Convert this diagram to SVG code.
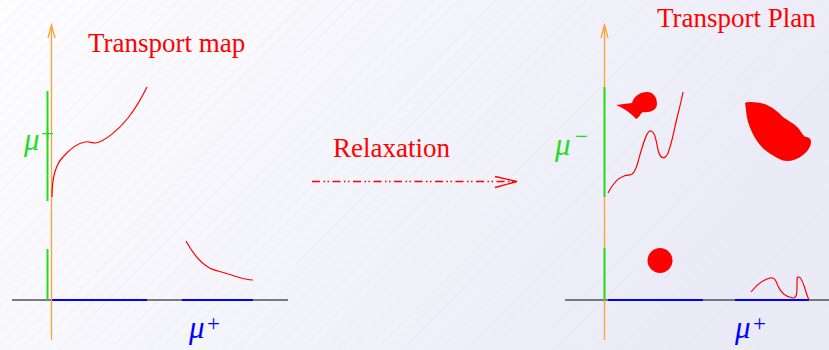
<svg xmlns="http://www.w3.org/2000/svg" width="829" height="350" viewBox="0 0 829 350">
<style>
.axis{stroke:#000;stroke-width:1.2;fill:none}
.yax{stroke:#ffa033;stroke-width:1.3;fill:none}
.grn{stroke:#22dd22;stroke-width:2;fill:none}
.blu{stroke:#0000ff;stroke-width:2;fill:none}
.red{stroke:#ff0000;stroke-width:1.2;fill:none}
.blob{fill:#ff0000;stroke:none}
.title{font-family:"Liberation Serif",serif;font-size:27px;fill:#ff0000}
.mu{font-family:"Liberation Serif",serif;font-style:italic;font-size:31px}
.sup{font-family:"Liberation Serif",serif;font-size:23px}
</style>
<defs>
<linearGradient id="bg" x1="0" y1="0" x2="1" y2="0.3">
<stop offset="0" stop-color="#fdfdff"/>
<stop offset="1" stop-color="#ebebf7"/>
</linearGradient>
<pattern id="hatch" width="9" height="9" patternUnits="userSpaceOnUse" patternTransform="rotate(45)">
<line x1="0" y1="0" x2="0" y2="9" stroke="#dcdcea" stroke-width="0.7" opacity="0.5"/>
</pattern>
</defs>
<rect width="829" height="350" fill="url(#bg)"/>
<rect width="829" height="350" fill="url(#hatch)"/>

<g id="left-panel">
<line class="axis" x1="12" y1="300" x2="288" y2="300"/>
<line class="grn" x1="47.5" y1="91" x2="47.5" y2="201"/>
<line class="grn" x1="47.5" y1="249" x2="47.5" y2="300"/>
<line class="blu" x1="52" y1="300" x2="147" y2="300"/>
<line class="blu" x1="182" y1="300" x2="253" y2="300"/>
<line class="yax" x1="51.5" y1="26" x2="51.5" y2="340"/>
<path class="yax" d="M48 38 L51.5 25 L55 38"/>
<path class="red" d="M52 197 C52 180 55 165 63 157 C70 149 78 143 85 142 C89 141 91 143 95 143 C105 142 120 128 128 118 C136 108 142 97 147 87"/>
<path class="red" d="M186 241 C192 252 198 261 208 267 C214 271 220 271 228 274 C238 277 245 280 253 280"/>
<text class="title" x="88" y="52">Transport map</text>
<text class="mu" x="24" y="150" fill="#22dd22">μ</text>
<text class="sup" x="41" y="141" fill="#22dd22">+</text>
<text class="mu" x="189" y="338" fill="#0000ff">μ</text>
<text class="sup" x="207" y="331" fill="#0000ff">+</text>
</g>

<g id="relaxation">
<text class="title" x="333" y="157">Relaxation</text>
</g>

<g id="connectors">
<line x1="312" y1="181.5" x2="516" y2="181.5" stroke="#ff0000" stroke-width="1.3" stroke-dasharray="8 3.5 1.5 2.5 1.5 3.5"/>
<path d="M495 176.5 L517 181.5 L495 187.5" fill="none" stroke="#ff0000" stroke-width="1.3"/>
</g>

<g id="right-panel">
<line class="axis" x1="565" y1="300" x2="829" y2="300"/>
<line class="yax" x1="604.5" y1="26" x2="604.5" y2="340"/>
<path class="yax" d="M601 38 L604.5 25 L608 38"/>
<line class="grn" x1="604.5" y1="87" x2="604.5" y2="197"/>
<line class="grn" x1="604.5" y1="248" x2="604.5" y2="300"/>
<line class="blu" x1="608" y1="300" x2="703" y2="300"/>
<line class="blu" x1="735" y1="300" x2="809" y2="300"/>
<path class="blob" d="M616 105 L632 103 C634 96 640 92 647 92 C654 92 657 98 657 104 C657 110 650 113 643 112 C640 114 639 118 636 119 C632 114 624 108 616 105 Z"/>
<path class="red" d="M608 193 C612 185 618 178 624 176 C628 174 631 177 634 172 C638 166 638 160 642 148 C645 138 648 130 651 131 C655 132 656 140 658 150 C660 158 664 160 667 155 C671 148 674 130 677 118 C680 106 682 98 683 92"/>
<path class="blob" d="M745 103 C748 101 760 102 767 105 C775 109 778 112 783 117 C790 122 795 124 799 129 C802 133 804 137 806 137 C808 137 811 138 811 142 C811 147 807 152 803 155 C798 159 792 161 787 161 C781 161 773 156 765 150 C757 143 752 134 748 122 C746 115 746 108 745 103 Z"/>
<circle class="blob" cx="660" cy="260.5" r="12.5"/>
<path class="red" d="M751 292 C755 287 762 280 770 278 C775 277 776 281 778 286 C781 293 786 297 793 298 C797 298 797 292 797 285 C797 279 797 276 799 277 C802 278 804 285 806 292 C807 295 808 298 809 300"/>
<text class="title" x="657" y="27">Transport Plan</text>
<text class="mu" x="555" y="155" fill="#22dd22">μ</text>
<text class="sup" x="575" y="144" fill="#22dd22">−</text>
<text class="mu" x="735" y="338" fill="#0000ff">μ</text>
<text class="sup" x="753" y="331" fill="#0000ff">+</text>
</g>
</svg>
